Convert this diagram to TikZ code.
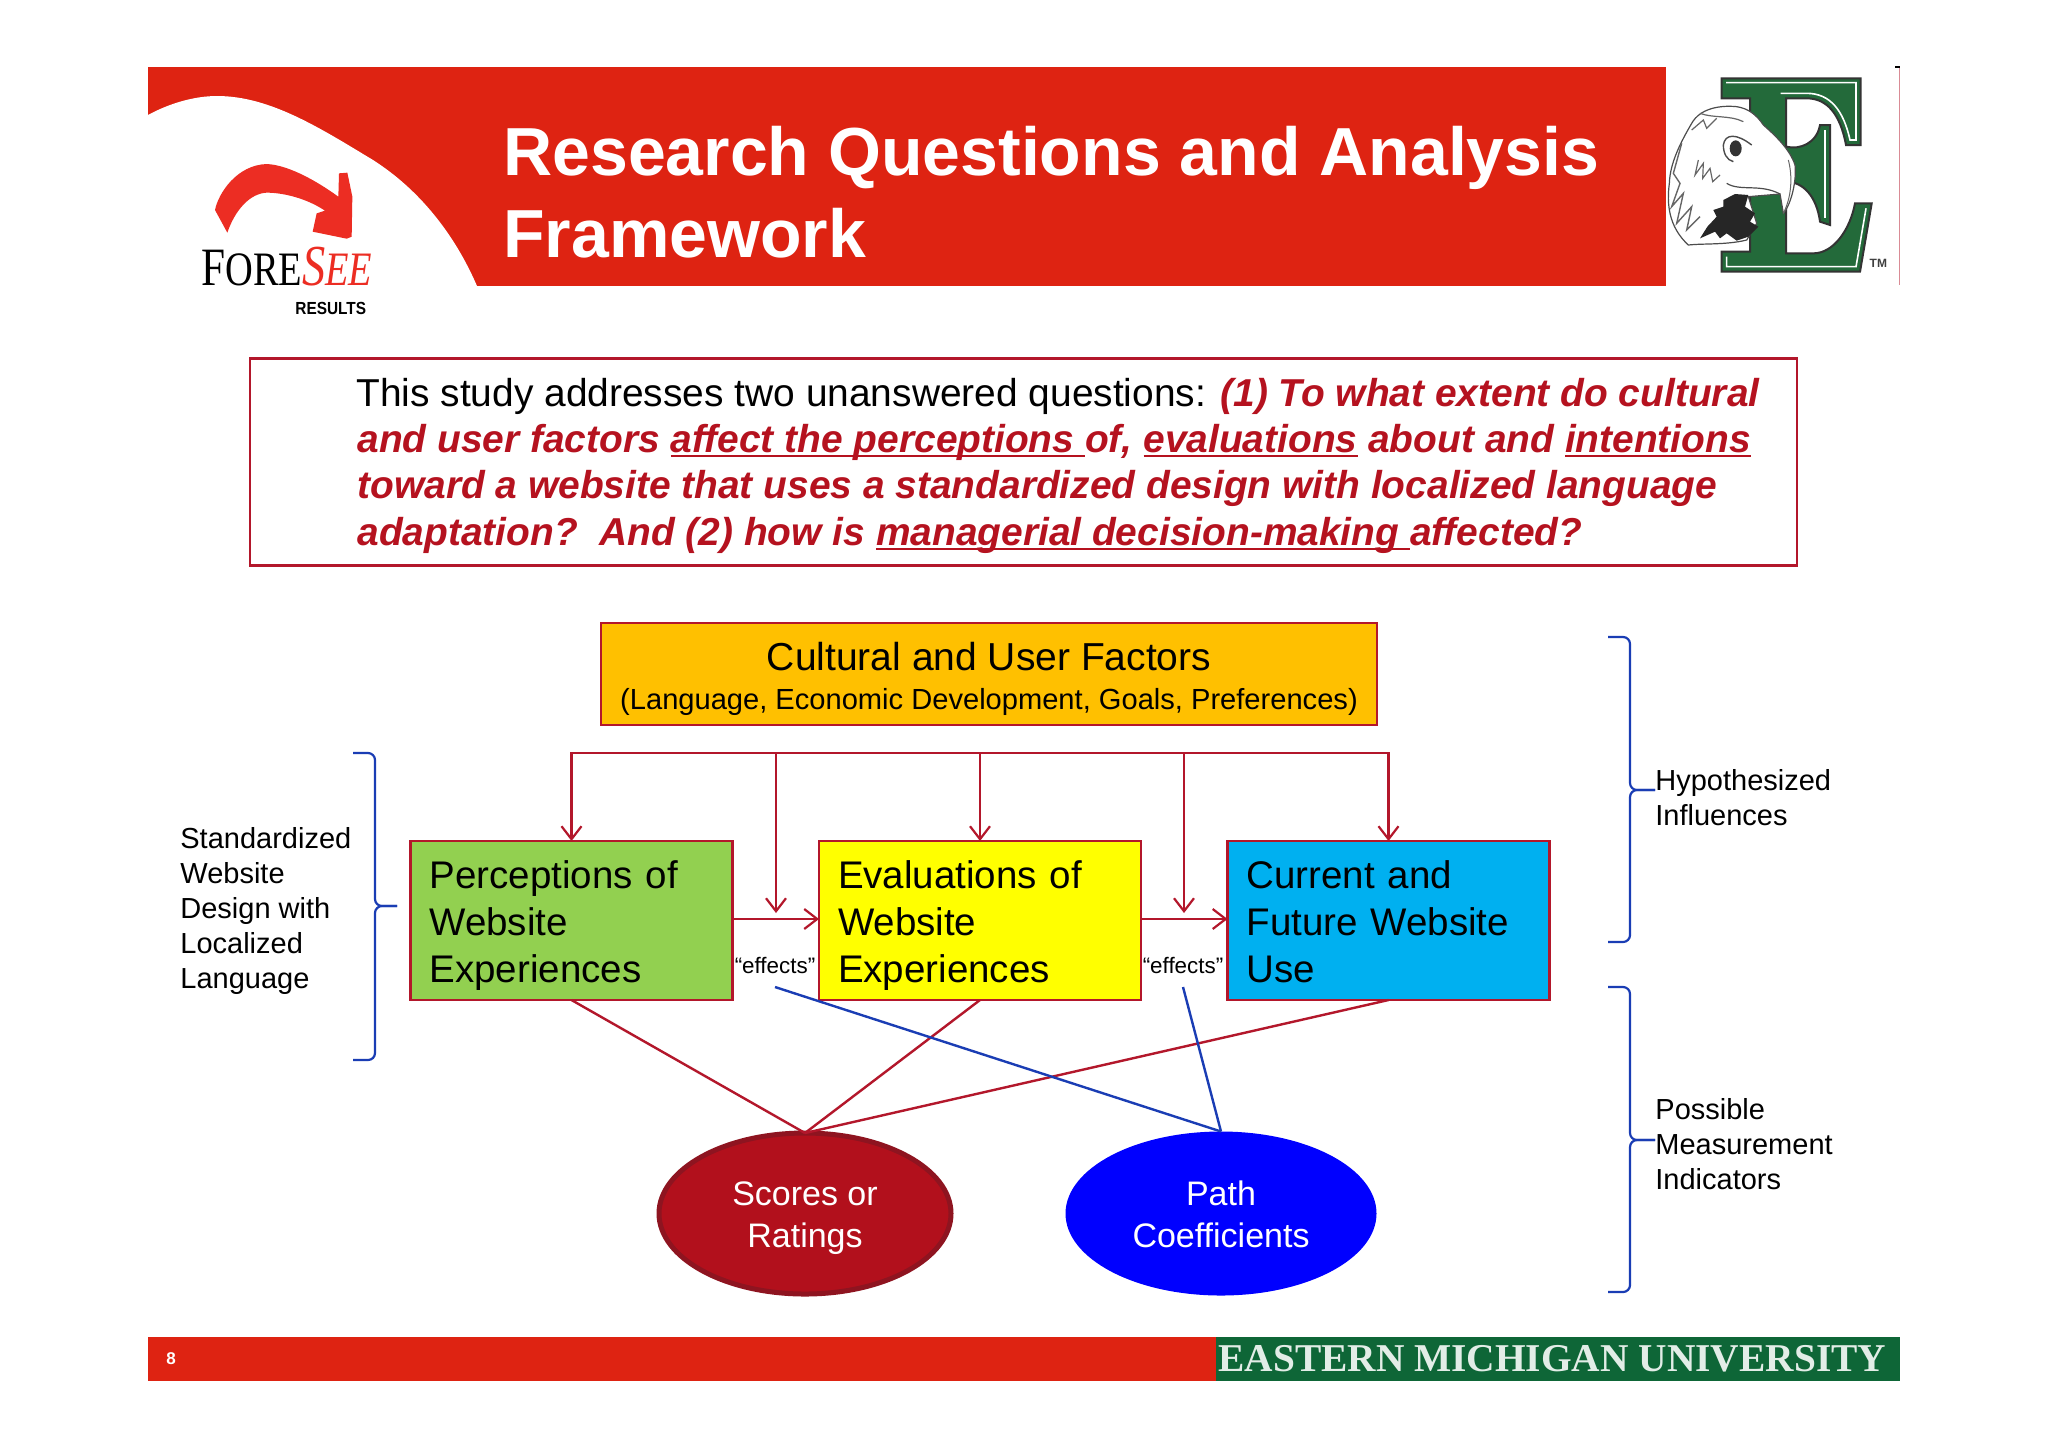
\documentclass[tikz,border=0pt]{standalone}
\usepackage{fontspec}
\usepackage{graphicx}
\setmainfont{Liberation Sans}
\newfontfamily\serifface{Liberation Serif}
\usetikzlibrary{arrows.meta,shapes.geometric}
\definecolor{bannerred}{HTML}{DE2312}
\definecolor{logored}{HTML}{EC2D23}
\definecolor{linered}{HTML}{B3172B}
\definecolor{textred}{HTML}{B5121F}
\definecolor{ovalred}{HTML}{B2101C}
\definecolor{ovaldark}{HTML}{8E1420}
\definecolor{boxorange}{HTML}{FFC000}
\definecolor{boxgreen}{HTML}{92D050}
\definecolor{boxyellow}{HTML}{FFFF00}
\definecolor{boxcyan}{HTML}{00B0F0}
\definecolor{pureblue}{HTML}{0000FF}
\definecolor{lineblue}{HTML}{1A3DB4}
\definecolor{emugreen}{HTML}{0E6637}
\definecolor{logogreen}{HTML}{236A3A}
\newcommand{\fs}[2]{\fontsize{#1}{#2}\selectfont}
\newcommand{\ulbox}[1]{\setbox0=\hbox{#1}\rlap{\raisebox{-2.6pt}{\rule{\wd0}{1.1pt}}}\box0\relax}
\newcommand{\flowtop}{\rule{0pt}{19.5pt}}
\newcommand{\flowbot}{\rule[-5pt]{0pt}{5pt}}
\newcommand{\ovaltop}{\rule{0pt}{17.6pt}}
\newcommand{\ovalbot}{\rule[-4.6pt]{0pt}{4.6pt}}
\tikzset{
  flowbox/.style={draw=linered,line width=1.4pt,minimum width=161pt,minimum height=79.5pt,text width=142pt,align=left,inner sep=0pt,outer sep=0pt,font=\fs{19.25}{23.5}},
  redlink/.style={draw=linered,line width=1.2pt},
  bluelink/.style={draw=lineblue,line width=1.2pt},
  tiplink/.style={redlink,-{Straight Barb[length=6.5pt,width=10pt,line width=1.1pt]}},
  bracepath/.style={draw=lineblue,line width=1.1pt,rounded corners=3.5pt},
  sidelabel/.style={anchor=north west,align=left,inner sep=0pt,font=\fs{14.5}{17.5}},
  oval/.style={ellipse,inner sep=0pt,outer sep=0pt,text=white,align=center,font=\fs{17}{21}},
  qline/.style={anchor=base west,inner sep=0pt,font=\fs{19.45}{23}\bfseries\itshape,text=textred},
  effectlabel/.style={inner sep=0pt,font=\fs{11.2}{13}},
}
\begin{document}
\begin{tikzpicture}[x=0.5pt,y=-0.5pt]
\useasboundingbox (0,0) rectangle (2048,1447);
\fill[white] (0,0) rectangle (2048,1447);
% banner
\fill[bannerred] (148,67) rectangle (1666,286);
\fill[white] (148,115) .. controls (170,103) and (195,96) .. (217,96)
  .. controls (270,96) and (320,128) .. (373,160)
  .. controls (420,190) and (455,235) .. (477,286) -- (148,286) -- cycle;
\node[anchor=base west,inner sep=0pt,text=white,font=\fs{34}{40}\bfseries] (title1) at (503,175) {Research Questions and Analysis};
\node[anchor=base west,inner sep=0pt,text=white,font=\fs{34}{40}\bfseries] (title2) at (503,257) {Framework};
% ForeSee logo
\begin{scope}[shift={(140,50)},x=0.16667pt,y=-0.16667pt]
\fill[logored] (262,548) -- (225,480) .. controls (235,430) and (290,345) .. (380,342)
  .. controls (450,345) and (540,400) .. (595,440) -- (597,370) -- (622,368) -- (637,440) -- (635,560) -- (620,566)
  -- (518,545) -- (530,490) -- (555,482) .. controls (500,445) and (430,428) .. (380,428)
  .. controls (330,430) and (285,480) .. (262,548) -- cycle;
\end{scope}
\node[anchor=base west,inner sep=0pt,font=\serifface] (foresee) at (201,285) {\scalebox{.8}[1]{\fs{27}{30}F\fs{24}{30}ORE\textcolor{logored}{\itshape\fs{29}{30}S\fs{24}{30}EE}}};
\node[anchor=base west,inner sep=0pt,font=\fs{7}{8}\bfseries] (results) at (295,314) {\scalebox{1.1}[1.25]{RESULTS}};
% EMU logo
\begin{scope}[shift={(1620,50)},x=0.16667pt,y=-0.16667pt]
\draw[black!80,line width=1pt,fill=logogreen]
  (305,85) -- (722,85) -- (722,285) -- (678,285) .. controls (660,190) and (620,145) .. (560,145)
  -- (498,145) -- (498,290) .. controls (540,300) and (590,280) .. (600,225) -- (630,225) -- (630,525) -- (600,515)
  .. controls (590,440) and (550,395) .. (498,395) -- (498,610) -- (580,610) .. controls (640,610) and (690,540) .. (705,460)
  -- (755,460) -- (720,665) -- (305,665) -- (305,605) -- (390,605) -- (390,145) -- (305,145) -- cycle;
\draw[white,line width=.8pt] (318,98) -- (708,98) -- (708,270) -- (690,270) .. controls (670,180) and (630,130) .. (560,130) -- (482,130);
\draw[white,line width=.8pt] (738,475) -- (708,650) -- (320,650) -- (320,620);
\draw[white,line width=.8pt] (615,240) -- (615,505);
\draw[black!70,line width=.6pt,fill=white]
  (350,170) .. controls (300,165) and (240,175) .. (215,220) .. controls (180,280) and (150,340) .. (148,400)
  .. controls (140,460) and (145,530) .. (205,585) .. controls (250,580) and (320,585) .. (380,570)
  -- (410,520) -- (385,440) -- (480,432) -- (490,490) .. controls (515,460) and (530,390) .. (525,345)
  .. controls (510,300) and (470,260) .. (430,225) .. controls (410,195) and (385,175) .. (350,170) -- cycle;
\fill[black!85] (262,530) -- (290,500) -- (280,480) -- (310,470) -- (310,450) -- (345,432) -- (385,435) -- (375,470) -- (405,490) -- (390,515) -- (415,530) -- (385,560) -- (350,572) -- (320,550) -- (300,565) -- (285,545) -- (240,565) -- cycle;
\fill[black!80] (347,295) circle [x radius=3pt,y radius=4pt];
\draw[black!70,line width=.7pt] (310,285) .. controls (315,250) and (350,250) .. (395,285);
\draw[black!70,line width=.7pt] (310,285) .. controls (310,310) and (320,330) .. (340,335);
\draw[black!70,line width=.6pt] (320,400) .. controls (360,425) and (420,400) .. (480,432);
\draw[black!60,line width=.6pt] (235,330) -- (225,375) -- (250,340) -- (248,385) -- (270,355) -- (278,395) -- (300,375);
\draw[black!60,line width=.7pt] (185,280) -- (160,370) -- (180,400) -- (155,470) -- (190,430) -- (170,520) -- (215,470) -- (200,540) -- (240,500);
\draw[black!60,line width=.6pt] (240,190) .. controls (280,205) and (330,195) .. (370,215);
\draw[black!60,line width=.6pt] (215,240) -- (250,210) -- (260,235) -- (290,205);
\draw[black!60,line width=.5pt] (505,330) .. controls (518,380) and (515,440) .. (490,490);
\node[inner sep=0pt,text=black!75,font=\fs{6}{7}\bfseries] (tm) at (775,640) {TM};
\end{scope}
\draw[linered!50,line width=.4pt] (1899,67) -- (1899,285);
\draw[black,line width=.6pt] (1895,67) -- (1900,67);
% question box
\node[draw=linered,line width=1.2pt,minimum width=773.5pt,minimum height=103.5pt,inner sep=0pt,outer sep=0pt] (qbox) at (1023.5,462) {};
\node[anchor=base west,inner sep=0pt,font=\fs{19.45}{23}] (q1) at (356,406) {This study addresses two unanswered questions: \textcolor{textred}{\bfseries\itshape (1) To what extent do cultural}};
\node[qline] (q2) at (357,452) {and user factors \ulbox{affect the perceptions\ }of, \ulbox{evaluations} about and \ulbox{intentions}};
\node[qline] (q3) at (357,498) {toward a website that uses a standardized design with localized language};
\node[qline] (q4) at (357,545) {adaptation?\ \ And (2) how is \ulbox{managerial decision-making\ }affected?};
% main boxes
\node[draw=linered,fill=boxorange,line width=1.4pt,minimum width=388pt,minimum height=51pt,inner sep=0pt,outer sep=0pt,align=center,font=\fs{19.5}{19.2}] (factors) at (989,674)
  {\rule{0pt}{19.2pt}Cultural and User Factors\\{\fs{14.55}{19.2}(Language, Economic Development, Goals, Preferences)}};
\node[flowbox,fill=boxgreen] (perc) at (571.5,920.5) {\flowtop Perceptions of\\Website\\Experiences\flowbot};
\node[flowbox,fill=boxyellow] (eval) at (980,920.5) {\flowtop Evaluations of\\Website\\Experiences\flowbot};
\node[flowbox,fill=boxcyan] (use) at (1388.5,920.5) {\flowtop Current and\\Future Website\\Use\flowbot};
\node[oval,fill=ovalred,draw=ovaldark,line width=2.5pt,minimum width=146pt,minimum height=80.5pt] (scores) at (805,1213.5) {\ovaltop Scores or\\Ratings\ovalbot};
\node[oval,fill=pureblue,minimum width=155.5pt,minimum height=82pt] (path) at (1221,1213.5) {\ovaltop Path\\Coefficients\ovalbot};
% bus
\coordinate (bus1) at (571.5,753);
\coordinate (bus2) at (776,753);
\coordinate (bus3) at (980,753);
\coordinate (bus4) at (1184,753);
\coordinate (bus5) at (1388.5,753);
\coordinate (drop2) at (776,913);
\coordinate (drop4) at (1184,913);
\coordinate (blue2) at (775,987);
\coordinate (blue4) at (1183,987);
\draw[redlink,line cap=rect] (bus1) -- (bus5);
\draw[tiplink] (bus1) -- (perc.north);
\draw[tiplink] (bus2) -- (drop2);
\draw[tiplink] (bus3) -- (eval.north);
\draw[tiplink] (bus4) -- (drop4);
\draw[tiplink] (bus5) -- (use.north);
\draw[tiplink] (perc.east |- 0,919) -- (eval.west |- 0,919);
\draw[tiplink] (eval.east |- 0,919) -- (use.west |- 0,919);
\node[effectlabel] (eff1) at (775,965) {“effects”};
\node[effectlabel] (eff2) at (1183,965) {“effects”};
\draw[redlink] (perc.south) -- (scores.north);
\draw[redlink] (eval.south) -- (scores.north);
\draw[redlink] (use.south) -- (scores.north);
\draw[bluelink] (blue2) -- (path.north);
\draw[bluelink] (blue4) -- (path.north);
% braces
\coordinate (bl1) at (353,753);
\coordinate (bl2) at (375,753);
\coordinate (bl3) at (375,906);
\coordinate (bl4) at (397,906);
\coordinate (bl5) at (375,1060);
\coordinate (bl6) at (353,1060);
\draw[bracepath] (bl1) -- (bl2) -- (bl3) -- (bl4);
\draw[bracepath] (bl4) -- (bl3) -- (bl5) -- (bl6);
\coordinate (ru1) at (1608,637);
\coordinate (ru2) at (1630,637);
\coordinate (ru3) at (1630,790);
\coordinate (ru4) at (1655,790);
\coordinate (ru5) at (1630,942);
\coordinate (ru6) at (1608,942);
\draw[bracepath] (ru1) -- (ru2) -- (ru3) -- (ru4);
\draw[bracepath] (ru4) -- (ru3) -- (ru5) -- (ru6);
\coordinate (rl1) at (1608,987);
\coordinate (rl2) at (1630,987);
\coordinate (rl3) at (1630,1140);
\coordinate (rl4) at (1655,1140);
\coordinate (rl5) at (1630,1292);
\coordinate (rl6) at (1608,1292);
\draw[bracepath] (rl1) -- (rl2) -- (rl3) -- (rl4);
\draw[bracepath] (rl4) -- (rl3) -- (rl5) -- (rl6);
\node[sidelabel] (std) at (180,827) {Standardized\\Website\\Design with\\Localized\\Language};
\node[sidelabel] (hyp) at (1655,769) {Hypothesized\\Influences};
\node[sidelabel] (pos) at (1655,1098) {Possible\\Measurement\\Indicators};
% footer
\fill[bannerred] (148,1337) rectangle (1216,1381);
\fill[emugreen] (1216,1337) rectangle (1900,1381);
\node[inner sep=0pt,text=white,font=\fs{8.5}{10}\bfseries] (pagenum) at (171,1359) {8};
\node[anchor=base west,inner sep=0pt,text=white!88!emugreen,font=\serifface\fs{19.7}{20}\bfseries] (emu) at (1218,1371) {EASTERN MICHIGAN UNIVERSITY};
\end{tikzpicture}
\end{document}
